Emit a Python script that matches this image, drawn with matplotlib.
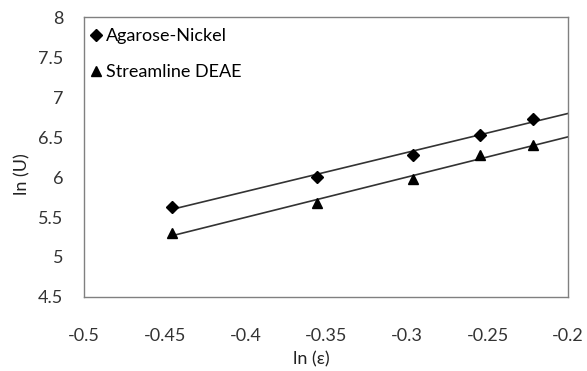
import numpy as np
import matplotlib.pyplot as plt

plt.rcParams['font.family'] = ['Lato', 'DejaVu Sans']

ln_eps = [-0.4456, -0.3558, -0.2963, -0.2545, -0.2221]
agarose_nickel = [5.63, 6.00, 6.28, 6.53, 6.73]
streamline_deae = [5.30, 5.67, 5.98, 6.27, 6.40]

fig = plt.figure(figsize=(5.87, 3.71), dpi=100)
ax = fig.add_axes([0.143, 0.1995, 0.825, 0.7545])

x = np.array(ln_eps)
x_fit = np.array([x[0], -0.2])
for y, mk, lab in [(agarose_nickel, 'D', 'Agarose-Nickel'),
                   (streamline_deae, '^', 'Streamline DEAE')]:
    ax.plot(x, y, mk, color='black', markersize=7.5 if mk == '^' else 6,
            linestyle='none', label=lab, zorder=3)
    m, c = np.polyfit(x, y, 1)
    ax.plot(x_fit, m * x_fit + c, color='#333333', lw=1.2, zorder=2)

ax.set_xlim(-0.5, -0.2)
ax.set_ylim(4.5, 8)
ax.set_xticks([-0.5, -0.45, -0.4, -0.35, -0.3, -0.25, -0.2])
ax.set_xticklabels(['-0.5', '-0.45', '-0.4', '-0.35', '-0.3', '-0.25', '-0.2'])
ax.set_yticks([4.5, 5, 5.5, 6, 6.5, 7, 7.5, 8])
ax.set_yticklabels(['4.5', '5', '5.5', '6', '6.5', '7', '7.5', '8'])
ax.tick_params(length=0, labelsize=13, colors='#333333')
ax.tick_params(axis='x', pad=22)
ax.tick_params(axis='y', pad=15)
for s in ax.spines.values():
    s.set_color('#808080')
    s.set_linewidth(1.0)

ax.set_xlabel('ln (ε)', fontsize=13, color='#222222')
ax.xaxis.set_label_coords(0.47, -0.195)
ax.set_ylabel('ln (U)', fontsize=13, color='#222222')
ax.yaxis.set_label_coords(-0.11, 0.44)

ax.legend(loc='upper left', bbox_to_anchor=(-0.005, 0.98), frameon=False,
          fontsize=13, handletextpad=0.05, handlelength=1.0,
          borderaxespad=0.0, labelspacing=1.1, borderpad=0.3)

fig.savefig('out.png', dpi=100)
